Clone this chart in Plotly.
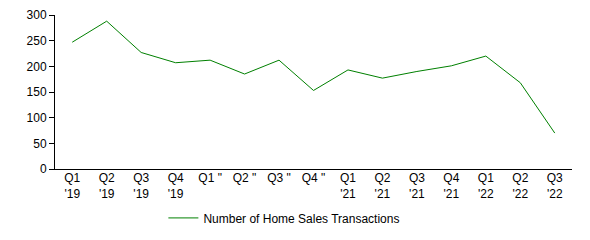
import plotly.graph_objects as go

categories = ["Q1<br>'19", "Q2<br>'19", "Q3<br>'19", "Q4<br>'19",
              'Q1 "', 'Q2 "', 'Q3 "', 'Q4 "',
              "Q1<br>'21", "Q2<br>'21", "Q3<br>'21", "Q4<br>'21",
              "Q1<br>'22", "Q2<br>'22", "Q3<br>'22"]
transactions = [247, 288, 227, 207, 212, 185, 212, 153, 193, 177, 190, 201, 220, 168, 70]

fig = go.Figure()
fig.add_trace(go.Scatter(
    x=categories, y=transactions, mode="lines",
    name="Number of Home Sales Transactions",
    line=dict(color="#008000", width=1),
))
fig.update_layout(
    width=590, height=240,
    margin=dict(l=55, r=18, t=15, b=71, autoexpand=False),
    paper_bgcolor="white", plot_bgcolor="white",
    font=dict(family="Liberation Sans, Arial, sans-serif", size=12, color="#000"),
    showlegend=True,
    legend=dict(orientation="h", xref="container", yref="container",
                x=0.482, xanchor="center", y=0.092, yanchor="middle",
                font=dict(size=12)),
    xaxis=dict(type="category", range=[-0.5, len(categories) - 0.5],
               showline=True, linecolor="black", linewidth=1,
               showgrid=False, ticks="", ticklabelstandoff=-2,
               tickangle=0, fixedrange=True),
    yaxis=dict(range=[0, 300], dtick=50, showline=True, linecolor="black", linewidth=1,
               showgrid=False, zeroline=False, ticks="outside", ticklen=5,
               tickcolor="black", fixedrange=True),
)
fig.write_html("out.html")
